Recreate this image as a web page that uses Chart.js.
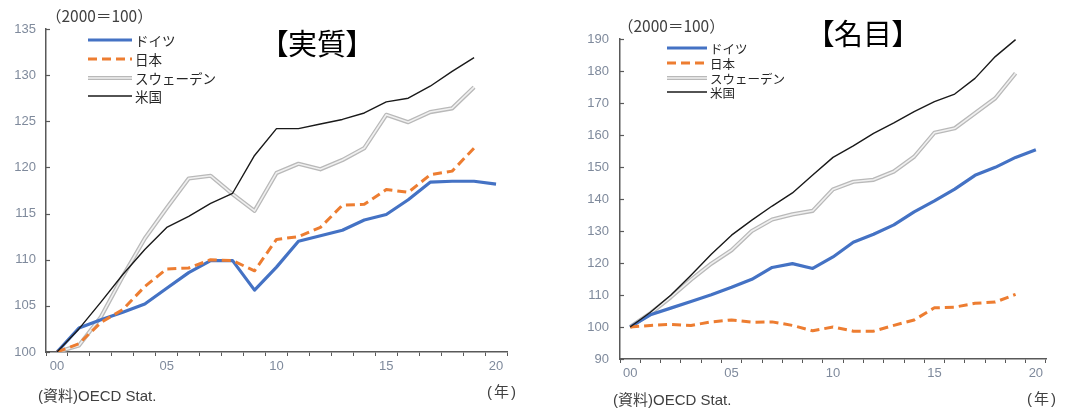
<!DOCTYPE html>
<html lang="ja">
<head>
<meta charset="utf-8">
<script src="https://cdn.jsdelivr.net/npm/chart.js@4.4.1/dist/chart.umd.min.js"></script>
<style>
  html, body { margin: 0; padding: 0; background: #fff; }
  #page { position: relative; width: 1076px; height: 408px; overflow: hidden; }
  canvas { position: absolute; top: 0; }
  .txt { position: absolute; white-space: nowrap; color: #404040; font-family: "Liberation Sans", "Noto Sans CJK JP", sans-serif; }
  .title { font-family: "Noto Sans CJK JP", sans-serif; font-feature-settings: "palt"; color: #000; transform: translate(-50%, -50%); }
  .leg { position: absolute; white-space: nowrap; font-family: "Noto Sans CJK JP", sans-serif; color: #262626; }
</style>
</head>
<body>
<div id="page">
  <canvas id="realChart" width="540" height="408" style="left:0"></canvas>
  <canvas id="nomChart" width="536" height="408" style="left:540px"></canvas>
</div>
<script>
// categories (year, 2000 = '00')
const years = ['00','01','02','03','04','05','06','07','08','09','10',
               '11','12','13','14','15','16','17','18','19','20'];
const seriesNames = ['ドイツ', '日本', 'スウェーデン', '米国'];

// 実質 (2000=100)
const realGermany = [100, 102.6, 103.5, 104.3, 105.2, 106.9, 108.6, 109.9, 109.9, 106.7, 109.2,
                     112.0, 112.6, 113.2, 114.3, 114.9, 116.5, 118.4, 118.5, 118.5, 118.2];
const realJapan   = [100, 100.9, 103.2, 104.6, 107.1, 109.0, 109.1, 110.0, 109.9, 108.8, 112.2,
                     112.5, 113.5, 115.9, 116.0, 117.6, 117.3, 119.2, 119.6, 122.1];
const realSweden  = [100, 100.7, 103.8, 108.2, 112.3, 115.6, 118.8, 119.1, 117.1, 115.3, 119.4,
                     120.4, 119.8, 120.8, 122.1, 125.7, 124.9, 126.0, 126.4, 128.7];
const realUS      = [100, 102.5, 105.4, 108.4, 111.1, 113.5, 114.7, 116.1, 117.2, 121.3, 124.2,
                     124.2, 124.7, 125.2, 125.9, 127.1, 127.5, 128.8, 130.4, 131.9];

// 名目 (2000=100)
const nomGermany = [100, 103.8, 105.9, 108.0, 110.1, 112.4, 114.9, 118.6, 119.8, 118.3, 121.9,
                    126.5, 129.0, 131.9, 136.0, 139.4, 143.1, 147.4, 149.9, 153.0, 155.4];
const nomJapan   = [100, 100.5, 100.8, 100.5, 101.6, 102.2, 101.5, 101.6, 100.5, 98.8, 100.0,
                    98.7, 98.7, 100.5, 102.2, 106.0, 106.2, 107.4, 107.8, 110.2];
const nomSweden  = [100, 104.3, 109.3, 114.8, 119.8, 124.0, 130.0, 133.6, 135.2, 136.3, 143.0,
                    145.4, 146.0, 148.6, 153.2, 160.7, 162.1, 166.8, 171.5, 179.3];
const nomUS      = [100, 104.6, 109.9, 116.2, 122.7, 128.7, 133.4, 137.8, 141.9, 147.5, 153.0,
                    156.6, 160.5, 163.8, 167.3, 170.4, 172.8, 177.7, 184.5, 189.8];

const realTicks = [100, 105, 110, 115, 120, 125, 130, 135];
const nomTicks  = [90, 100, 110, 120, 130, 140, 150, 160, 170, 180, 190];

// styles
const axisColor = '#595959';
const tickColor = '#7f8a9c';
const lineStyle = [
  { color: '#4472c4', width: 3.2 },
  { color: '#ed7d31', width: 3, dash: [9, 5] },
  { color: '#b9b9b9', width: 4.2, inner: '#f0f0f0', innerWidth: 1.6 },
  { color: '#1a1a1a', width: 1.4 }
];
const drawOrder = [2, 1, 3, 0];

function buildDatasets(series) {
  const out = [];
  series.forEach((data, i) => {
    const st = lineStyle[i];
    out.push({
      label: seriesNames[i],
      data: data,
      borderColor: st.color,
      borderWidth: st.width,
      borderDash: st.dash || [],
      pointRadius: 0,
      fill: false,
      tension: 0,
      borderJoinStyle: 'round',
      order: drawOrder[i] * 2 + 1
    });
    if (st.inner) {
      out.push({
        label: seriesNames[i] + '_inner',
        data: data,
        borderColor: st.inner,
        borderWidth: st.innerWidth,
        pointRadius: 0,
        fill: false,
        tension: 0,
        order: drawOrder[i] * 2
      });
    }
  });
  return out;
}

// short tick marks pointing into the plot on the value axis
const innerTicks = {
  id: 'innerTicks',
  afterDraw(chart) {
    const y = chart.scales.y;
    const ctx = chart.ctx;
    ctx.save();
    ctx.strokeStyle = axisColor;
    ctx.lineWidth = 1.2;
    y.ticks.forEach(t => {
      const py = Math.round(y.getPixelForValue(t.value)) + 0.5;
      ctx.beginPath();
      ctx.moveTo(y.right, py);
      ctx.lineTo(y.right + 4, py);
      ctx.stroke();
    });
    ctx.restore();
  }
};

function makeChart(id, series, yMin, yMax, step, box) {
  return new Chart(document.getElementById(id), {
    type: 'line',
    data: { labels: years, datasets: buildDatasets(series) },
    options: {
      responsive: false,
      animation: false,
      devicePixelRatio: 1,
      layout: { padding: { left: 0, top: box.top, right: box.right, bottom: 0 } },
      plugins: { legend: { display: false }, tooltip: { enabled: false } },
      scales: {
        x: {
          offset: true,
          grid: { display: true, drawOnChartArea: false, drawTicks: true, tickLength: 4,
                  offset: true, color: axisColor, lineWidth: 1 },
          border: { display: true, color: axisColor, width: 1.5 },
          ticks: {
            autoSkip: false, maxRotation: 0, minRotation: 0, padding: box.xPad,
            color: tickColor, font: { family: 'Liberation Sans', size: box.font },
            callback: function (v, i) { return i % 5 === 0 ? this.getLabelForValue(v) : ''; }
          },
          afterFit: s => { s.height = box.xh; }
        },
        y: {
          min: yMin, max: yMax,
          grid: { display: false, drawTicks: false },
          border: { display: true, color: axisColor, width: 1.5 },
          ticks: {
            stepSize: step, padding: box.yPad, color: tickColor,
            font: { family: 'Liberation Sans', size: box.font }
          },
          afterBuildTicks: s => {
            s.ticks = (id === 'realChart' ? realTicks : nomTicks).map(v => ({ value: v }));
          },
          afterFit: s => { s.width = box.yw; }
        }
      }
    },
    plugins: [innerTicks]
  });
}

makeChart('realChart', [realGermany, realJapan, realSweden, realUS], 100, 135, 5,
  { top: 29, right: 33, xh: 56, yw: 46, xPad: 3, yPad: 10, font: 13 });
makeChart('nomChart', [nomGermany, nomJapan, nomSweden, nomUS], 90, 190, 10,
  { top: 39, right: 30, xh: 49, yw: 80, xPad: 3, yPad: 11, font: 13 });

// text and legends
const page = document.getElementById('page');
function addText(html, cls, x, y, size, extra) {
  const d = document.createElement('div');
  d.className = cls;
  d.innerHTML = html;
  d.style.left = x + 'px';
  d.style.top = y + 'px';
  d.style.fontSize = size + 'px';
  if (extra) Object.assign(d.style, extra);
  page.appendChild(d);
  return d;
}

addText('【実質】', 'txt title', 317, 42, 29);
addText('【名目】', 'txt title', 863, 32, 29);
addText('（2000＝100）', 'txt', 46, 4, 15.5, { fontFamily: '"Noto Sans CJK JP", sans-serif' });
addText('（2000＝100）', 'txt', 618, 14, 15.5, { fontFamily: '"Noto Sans CJK JP", sans-serif' });
addText('(資料)OECD Stat.', 'txt', 38, 384, 15);
addText('(資料)OECD Stat.', 'txt', 613, 388, 15);
addText('(年)', 'txt', 487, 380, 15, { letterSpacing: '2px' });
addText('(年)', 'txt', 1027, 387, 15, { letterSpacing: '2px' });

function sampleSvg(st, w) {
  let s = '<svg width="' + w + '" height="8" style="position:absolute;left:0;top:-4px">';
  s += '<line x1="0" y1="4" x2="' + w + '" y2="4" stroke="' + st.color + '" stroke-width="' + st.width + '"' +
       (st.dash ? ' stroke-dasharray="' + st.dash.join(',') + '"' : '') + '/>';
  if (st.inner) {
    s += '<line x1="0" y1="4" x2="' + w + '" y2="4" stroke="' + st.inner + '" stroke-width="' + st.innerWidth + '"/>';
  }
  return s + '</svg>';
}

function addLegend(x0, rows, lineW, size) {
  seriesNames.forEach((name, i) => {
    const holder = document.createElement('div');
    holder.style.position = 'absolute';
    holder.style.left = x0 + 'px';
    holder.style.top = rows[i] + 'px';
    holder.innerHTML = sampleSvg(lineStyle[i], lineW);
    page.appendChild(holder);
    const t = addText(name, 'leg', x0 + lineW + 3, rows[i], size);
    t.style.transform = 'translateY(-50%)';
  });
}
addLegend(88, [40, 58.5, 77.5, 96], 44, 13.5);
addLegend(667, [48, 62.7, 77.5, 92], 40, 12.5);
</script>
</body>
</html>
